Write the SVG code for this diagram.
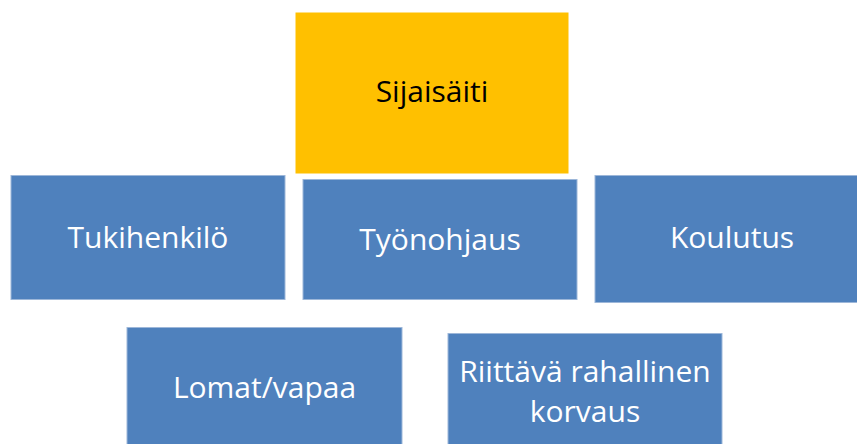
<svg xmlns="http://www.w3.org/2000/svg" width="857" height="444" viewBox="0 0 857 444">
<style>
.b{fill:#4F81BD;stroke:#9DB7D9;stroke-width:1}
.y{fill:#FFC000;stroke:#FFFFFF;stroke-width:1}
text{font-family:"Open Sans","Liberation Sans",sans-serif;font-size:30px;text-anchor:middle}
.w{fill:#FFFFFF}
.k{fill:#000000}
</style>
<rect width="857" height="444" fill="#FFFFFF"/>
<g id="connectors"></g>
<g id="tukihenkilo">
<rect class="b" x="11" y="175.5" width="274" height="124"/>
<text class="w" x="148" y="248">Tukihenkilö</text>
</g>
<g id="tyonohjaus">
<rect class="b" x="303" y="179.5" width="274" height="120"/>
<text class="w" x="440" y="250">Työnohjaus</text>
</g>
<g id="koulutus">
<rect class="b" x="595" y="175.5" width="274" height="127"/>
<text class="w" x="732" y="248">Koulutus</text>
</g>
<g id="lomat">
<rect class="b" x="127" y="327.5" width="275" height="130"/>
<text class="w" x="264.5" y="398">Lomat/vapaa</text>
</g>
<g id="riittava">
<rect class="b" x="448" y="333.5" width="274" height="124"/>
<text class="w" x="585" y="382">Riittävä rahallinen</text>
<text class="w" x="585" y="422">korvaus</text>
</g>
<g id="sijaisaiti">
<rect class="y" x="295" y="12" width="274" height="162"/>
<text class="k" x="432" y="102">Sijaisäiti</text>
</g>
</svg>
